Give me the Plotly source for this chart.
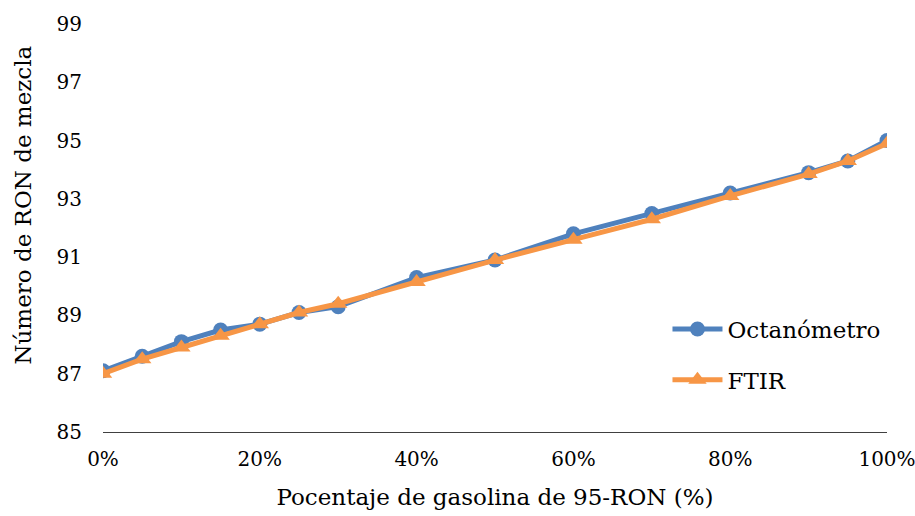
import plotly.graph_objects as go

pct = [0, 0.05, 0.10, 0.15, 0.20, 0.25, 0.30, 0.40, 0.50, 0.60, 0.70, 0.80, 0.90, 0.95, 1.00]
octanometro = [87.1, 87.6, 88.1, 88.5, 88.7, 89.1, 89.3, 90.3, 90.9, 91.8, 92.5, 93.2, 93.9, 94.3, 95.0]
ftir = [87.0, 87.5, 87.9, 88.3, 88.7, 89.1, 89.4, 90.15, 90.9, 91.6, 92.3, 93.1, 93.85, 94.3, 94.9]

FONT = "DejaVu Serif"
fig = go.Figure()
fig.add_trace(go.Scatter(x=pct, y=octanometro, name="Octanómetro", mode="lines+markers",
                         legendgroup="a",
                         line=dict(color="#4F81BD", width=5),
                         marker=dict(symbol="circle", size=15, color="#4F81BD")))
fig.add_trace(go.Scatter(x=pct, y=ftir, name="FTIR", mode="lines+markers",
                         legendgroup="b",
                         line=dict(color="#F79646", width=5),
                         marker=dict(symbol="triangle-up", size=16, color="#F79646")))

fig.update_layout(
    width=915, height=516,
    margin=dict(l=103, r=28, t=24, b=84, autoexpand=False),
    paper_bgcolor="white", plot_bgcolor="white",
    font=dict(family=FONT, size=20, color="black"),
    showlegend=True,
    legend=dict(x=0.72, y=0.19, xanchor="left", yanchor="middle",
                font=dict(family=FONT, size=23), tracegroupgap=18,
                itemwidth=50, bgcolor="rgba(0,0,0,0)"),
    xaxis=dict(range=[0, 1], tickvals=[0, 0.2, 0.4, 0.6, 0.8, 1.0],
               ticktext=["0%", "20%", "40%", "60%", "80%", "100%"],
               tickfont=dict(size=20), ticklabeloverflow="allow",
               showgrid=False, zeroline=False, showline=True, linecolor="#404040", linewidth=1.3,
               ticks="", ticklabelstandoff=9, automargin=False,
               title=dict(text="Pocentaje de gasolina de 95-RON (%)", font=dict(family=FONT, size=23), standoff=18)),
    yaxis=dict(range=[85, 99], tickvals=[85, 87, 89, 91, 93, 95, 97, 99],
               showgrid=False, zeroline=False, showline=False, ticks="", ticklabelstandoff=20,
               automargin=False),
    annotations=[dict(text="Número de RON de mezcla", xref="paper", yref="paper",
                      x=-0.102, y=0.555, xanchor="center", yanchor="middle", textangle=-90,
                      showarrow=False, font=dict(family=FONT, size=23))],
)
fig.write_html("out.html")
